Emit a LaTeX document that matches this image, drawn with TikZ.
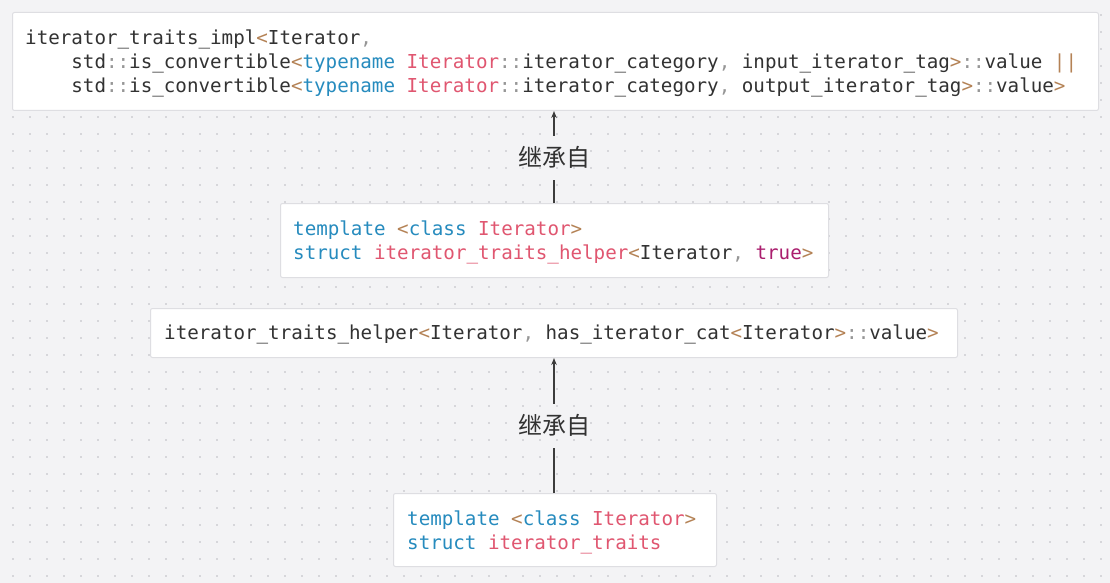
\documentclass[tikz,border=0pt]{standalone}
\usepackage{fontspec}
\usetikzlibrary{arrows.meta}
\newfontfamily\cmono{DejaVu Sans Mono}
\newfontfamily\cjkf{Noto Sans CJK SC}
\definecolor{bgc}{RGB}{243,243,245}
\definecolor{dotc}{RGB}{214,214,218}
\definecolor{boxline}{RGB}{222,222,226}
\definecolor{txtc}{RGB}{50,50,50}
\definecolor{kwc}{RGB}{38,139,190}
\definecolor{redc}{RGB}{224,86,112}
\definecolor{punc}{RGB}{180,130,85}
\definecolor{gryc}{RGB}{150,150,150}
\definecolor{truc}{RGB}{170,30,110}
\definecolor{arrc}{RGB}{60,60,60}
\newcommand{\ckw}[1]{\textcolor{kwc}{#1}}
\newcommand{\cred}[1]{\textcolor{redc}{#1}}
\newcommand{\cpun}[1]{\textcolor{punc}{#1}}
\newcommand{\cgry}[1]{\textcolor{gryc}{#1}}
\newcommand{\ctru}[1]{\textcolor{truc}{#1}}
\begin{document}
\begin{tikzpicture}[x=1pt,y=1pt,
  codebox/.style={draw=boxline,fill=white,line width=1pt,rounded corners=2pt,inner sep=0pt,anchor=north west},
  codeline/.style={anchor=base west,inner sep=0pt,text=txtc,font=\cmono\fontsize{19.2}{24}\selectfont},
  inhlabel/.style={font=\cjkf\fontsize{24}{28}\selectfont,text=txtc,inner xsep=2pt,inner ysep=10pt,text height=20pt,text depth=4pt},
  inharrow/.style={draw=arrc,line width=1.2pt,-{Stealth[length=7pt,width=5.5pt]}},
  inhline/.style={draw=arrc,line width=1.2pt}]
\useasboundingbox (0,0) rectangle (1110,-583);
\fill[bgc] (0,0) rectangle (1110,-583);
\foreach \i in {0,...,65}{
  \foreach \j in {0,...,34}{
    \fill[dotc] (13+17*\i-1,-15-17*\j+1) rectangle ++(2,-2);
  }
}
% boxes
\node[codebox,minimum width=1086pt,minimum height=98pt] (b1) at (12,-12) {};
\node[codebox,minimum width=548pt,minimum height=74pt] (b2) at (280,-203) {};
\node[codebox,minimum width=807pt,minimum height=49pt] (b3) at (150,-308) {};
\node[codebox,minimum width=323pt,minimum height=73pt] (b4) at (393,-493) {};
% box 1 text
\node[codeline] (b1l1) at (25,-45) {iterator\_traits\_impl\cpun{<}Iterator\cgry{,}};
\node[codeline] (b1l2) at (25,-69) {\phantom{xxxx}std\cgry{::}is\_convertible\cpun{<}\ckw{typename} \cred{Iterator}\cgry{::}iterator\_category\cgry{,} input\_iterator\_tag\cpun{>}\cgry{::}value \cpun{||}};
\node[codeline] (b1l3) at (25,-93) {\phantom{xxxx}std\cgry{::}is\_convertible\cpun{<}\ckw{typename} \cred{Iterator}\cgry{::}iterator\_category\cgry{,} output\_iterator\_tag\cpun{>}\cgry{::}value\cpun{>}};
% box 2 text
\node[codeline] (b2l1) at (293,-235) {\ckw{template} \cpun{<}\ckw{class} \cred{Iterator}\cpun{>}};
\node[codeline] (b2l2) at (293,-259) {\ckw{struct} \cred{iterator\_traits\_helper}\cpun{<}Iterator\cgry{,} \ctru{true}\cpun{>}};
% box 3 text
\node[codeline] (b3l1) at (164,-339) {iterator\_traits\_helper\cpun{<}Iterator\cgry{,} has\_iterator\_cat\cpun{<}Iterator\cpun{>}\cgry{::}value\cpun{>}};
% box 4 text
\node[codeline] (b4l1) at (407,-525) {\ckw{template} \cpun{<}\ckw{class} \cred{Iterator}\cpun{>}};
\node[codeline] (b4l2) at (407,-549) {\ckw{struct} \cred{iterator\_traits}};
% labels
\node[inhlabel] (lab1) at (554,-158) {继承自};
\node[inhlabel] (lab2) at (554,-426) {继承自};
% connectors
\draw[inhline] (b2.north -| lab1) -- (lab1.south);
\draw[inharrow] (lab1.north) -- (b1.south -| lab1);
\draw[inhline] (b4.north -| lab2) -- (lab2.south);
\draw[inharrow] (lab2.north) -- (b3.south -| lab2);
\end{tikzpicture}
\end{document}
